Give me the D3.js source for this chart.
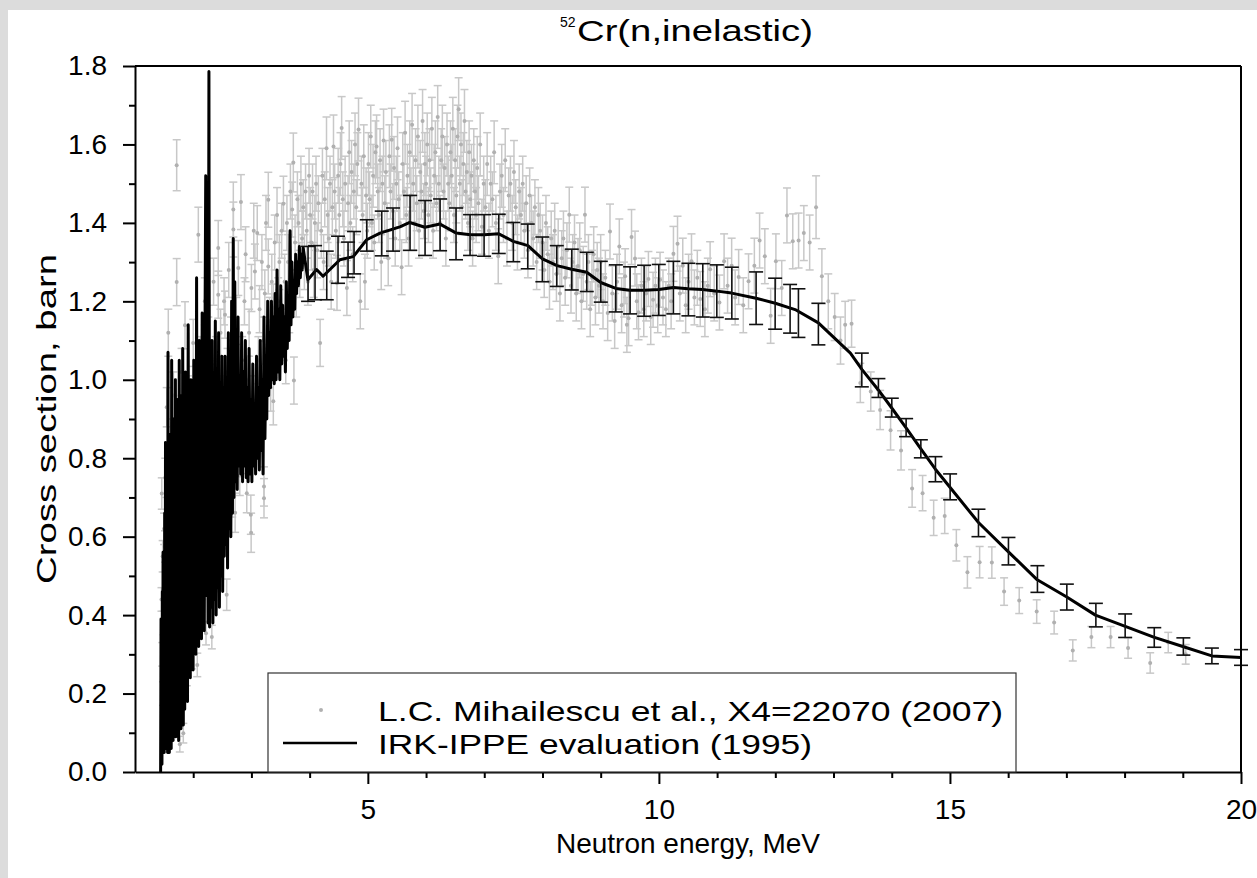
<!DOCTYPE html>
<html>
<head>
<meta charset="utf-8">
<script src="https://cdn.jsdelivr.net/npm/d3@7"></script>
<style>
	body { margin: 0; background: #fff; }
	svg { display: block; font-family: Arial, "Liberation Sans", sans-serif; }
</style>
</head>
<body>
<svg id="chart" width="1257" height="878"></svg>
<script>
// L.C. Mihailescu et al. (2007): [energy MeV, cross section b, uncertainty b]
const mihData = [
	[1.455,0.44,0.03],[1.460,0.71,0.04],[1.468,0.30,0.03],[1.475,0.55,0.04],[1.482,0.20,0.03],[1.49,0.38,0.03],[1.50,0.62,0.04],[1.515,0.575,0.04],[1.52,0.75,0.05],[1.53,0.28,0.03],
	[1.545,0.93,0.05],[1.55,0.45,0.04],[1.56,0.12,0.03],[1.572,1.12,0.06],[1.58,0.66,0.05],[1.60,0.35,0.04],[1.615,0.85,0.05],[1.63,0.18,0.03],[1.645,0.52,0.04],[1.66,0.96,0.06],
	[1.675,0.30,0.04],[1.69,0.70,0.05],[1.716,1.547,0.065],[1.716,1.249,0.06],[1.73,0.45,0.04],[1.75,0.88,0.05],[1.77,0.071,0.02],[1.785,0.62,0.05],[1.80,1.02,0.06],[1.83,0.099,0.025],
	[1.845,0.40,0.04],[1.859,1.139,0.06],[1.875,0.74,0.05],[1.89,0.25,0.03],[1.91,0.95,0.06],[1.93,0.55,0.04],[1.95,0.82,0.05],[1.974,0.293,0.03],[1.985,0.68,0.05],[2.0,1.094,0.06],
	[2.02,0.47,0.04],[2.04,0.90,0.05],[2.06,0.62,0.05],[2.07,0.273,0.03],[2.088,1.37,0.07],[2.10,0.78,0.05],[2.12,1.05,0.06],[2.14,0.40,0.04],[2.16,0.95,0.06],[2.18,0.58,0.05],
	[2.20,1.20,0.06],[2.22,0.354,0.03],[2.24,0.84,0.05],[2.26,1.10,0.06],[2.28,0.66,0.05],[2.30,0.98,0.06],[2.32,0.344,0.03],[2.335,0.949,0.06],[2.35,1.25,0.06],[2.37,0.72,0.05],
	[2.39,1.05,0.06],[2.41,0.50,0.04],[2.43,1.336,0.07],[2.43,1.217,0.06],[2.45,0.86,0.05],[2.47,1.12,0.06],[2.49,0.62,0.05],
	[2.51,0.95,0.06],[2.53,1.20,0.06],[2.546,1.166,0.06],[2.56,0.78,0.05],[2.575,0.452,0.04],[2.59,1.02,0.06],[2.61,1.28,0.07],[2.63,0.88,0.05],[2.65,1.10,0.06],[2.67,0.70,0.05],
	[2.689,1.434,0.07],[2.69,1.383,0.07],[2.70,0.95,0.06],[2.72,0.661,0.05],[2.74,1.15,0.06],[2.76,0.85,0.05],[2.775,1.285,0.07],[2.80,0.755,0.05],[2.82,1.453,0.07],[2.84,1.05,0.06],
	[2.86,0.90,0.05],[2.88,1.20,0.06],[2.90,1.32,0.07],[2.92,0.711,0.05],[2.94,1.00,0.06],[2.96,1.12,0.06],[2.98,0.85,0.05],[2.99,0.656,0.05],[2.995,0.61,0.05],
	[3.00,1.234,0.06],[3.02,0.95,0.06],[3.04,1.38,0.07],[3.06,1.276,0.07],[3.08,0.88,0.05],[3.10,1.374,0.07],[3.12,1.05,0.06],[3.14,1.18,0.06],[3.16,0.92,0.06],[3.18,1.30,0.07],
	[3.20,1.10,0.06],[3.216,0.698,0.05],[3.216,0.728,0.05],[3.23,1.22,0.06],[3.25,1.40,0.07],[3.27,1.02,0.06],[3.29,1.459,0.07],[3.29,1.289,0.07],[3.31,1.15,0.06],[3.33,0.98,0.06],
	[3.35,1.25,0.07],[3.376,1.184,0.06],[3.376,0.945,0.06],[3.40,1.35,0.07],[3.42,1.08,0.06],[3.44,1.42,0.07],[3.46,1.20,0.06],[3.48,1.30,0.07],
	[3.50,1.12,0.06],[3.52,1.38,0.07],[3.55,1.449,0.07],[3.57,1.25,0.07],[3.59,1.05,0.06],[3.61,1.40,0.07],[3.63,1.30,0.07],[3.65,1.18,0.06],[3.67,1.48,0.07],[3.70,1.434,0.07],
	[3.72,1.554,0.075],[3.73,0.998,0.06],[3.75,1.35,0.07],[3.77,1.22,0.06],[3.79,1.46,0.07],[3.81,1.40,0.07],[3.83,1.28,0.07],[3.85,1.50,0.07],[3.87,1.36,0.07],[3.89,1.44,0.07],
	[3.91,1.30,0.07],[3.93,1.48,0.07],[3.95,1.38,0.07],[3.97,1.25,0.06],[3.99,1.52,0.07],
	[4.01,1.42,0.07],[4.03,1.35,0.07],[4.05,1.48,0.07],[4.07,1.28,0.07],[4.09,1.40,0.07],[4.11,1.50,0.07],[4.13,1.33,0.07],[4.15,1.45,0.07],[4.18,1.094,0.06],[4.20,1.38,0.07],
	[4.22,1.52,0.07],[4.24,1.30,0.07],[4.26,1.46,0.07],[4.29,1.59,0.08],[4.31,1.42,0.07],[4.33,1.36,0.07],[4.35,1.50,0.07],[4.37,1.25,0.07],[4.39,1.44,0.07],[4.41,1.595,0.08],
	[4.43,1.48,0.07],[4.45,1.38,0.07],[4.47,1.247,0.07],[4.49,1.52,0.07],[4.51,1.42,0.07],[4.53,1.55,0.08],[4.55,1.642,0.08],[4.57,1.46,0.07],[4.59,1.36,0.07],[4.61,1.50,0.07],
	[4.64,1.234,0.07],[4.66,1.45,0.07],[4.68,1.58,0.08],[4.70,1.40,0.07],[4.72,1.53,0.08],[4.74,1.32,0.07],[4.76,1.48,0.07],[4.78,1.60,0.08],[4.80,1.44,0.07],[4.82,1.55,0.08],
	[4.84,1.638,0.08],[4.87,1.20,0.07],[4.89,1.50,0.07],[4.91,1.42,0.07],[4.93,1.57,0.08],[4.95,1.25,0.07],[4.97,1.47,0.07],[4.99,1.38,0.07],
	[5.01,1.55,0.08],[5.03,1.46,0.07],[5.05,1.62,0.08],[5.07,1.40,0.07],[5.09,1.52,0.08],[5.11,1.35,0.07],[5.13,1.58,0.08],[5.15,1.595,0.08],[5.17,1.48,0.07],[5.19,1.42,0.07],
	[5.21,1.56,0.08],[5.23,1.30,0.07],[5.25,1.50,0.07],[5.27,1.61,0.08],[5.29,1.45,0.07],[5.31,1.53,0.08],[5.33,1.38,0.07],[5.35,1.31,0.07],[5.37,1.57,0.08],[5.39,1.48,0.07],
	[5.41,1.612,0.08],[5.43,1.43,0.07],[5.45,1.54,0.08],[5.47,1.36,0.07],[5.49,1.50,0.07],[5.51,1.59,0.08],[5.53,1.46,0.07],[5.55,1.40,0.07],[5.58,1.287,0.07],[5.60,1.55,0.08],
	[5.62,1.48,0.07],[5.64,1.63,0.08],[5.66,1.42,0.07],[5.68,1.52,0.08],[5.70,1.36,0.07],[5.72,1.58,0.08],[5.74,1.47,0.07],[5.76,1.65,0.08],[5.78,1.50,0.07],[5.80,1.40,0.07],
	[5.82,1.56,0.08],[5.84,1.45,0.07],[5.86,1.62,0.08],[5.88,1.38,0.07],[5.90,1.53,0.08],[5.92,1.48,0.07],[5.94,1.66,0.08],[5.96,1.43,0.07],[5.98,1.55,0.08],
	[6.00,1.50,0.07],[6.02,1.60,0.08],[6.04,1.42,0.07],[6.06,1.56,0.08],[6.08,1.47,0.07],[6.10,1.64,0.08],[6.12,1.38,0.07],[6.14,1.52,0.08],[6.16,1.58,0.08],[6.18,1.45,0.07],
	[6.20,1.67,0.08],[6.22,1.50,0.07],[6.24,1.40,0.07],[6.26,1.56,0.08],[6.28,1.62,0.08],[6.30,1.48,0.07],[6.32,1.54,0.08],[6.34,1.36,0.07],[6.36,1.60,0.08],[6.38,1.50,0.07],
	[6.40,1.45,0.07],[6.42,1.58,0.08],[6.44,1.52,0.08],[6.46,1.64,0.08],[6.48,1.42,0.07],[6.50,1.56,0.08],[6.52,1.47,0.07],[6.54,1.62,0.08],[6.56,1.69,0.08],[6.58,1.50,0.07],
	[6.60,1.60,0.08],[6.62,1.44,0.07],[6.64,1.55,0.08],[6.66,1.66,0.08],[6.68,1.48,0.07],[6.70,1.53,0.08],[6.72,1.40,0.07],[6.74,1.58,0.08],[6.76,1.46,0.07],[6.78,1.52,0.08],
	[6.80,1.36,0.07],[6.82,1.56,0.08],[6.84,1.48,0.07],[6.86,1.42,0.07],[6.88,1.54,0.08],[6.90,1.45,0.07],[6.93,1.60,0.08],[6.96,1.39,0.07],[6.99,1.50,0.07],
	[7.02,1.44,0.07],[7.05,1.55,0.08],[7.08,1.38,0.07],[7.11,1.50,0.07],[7.14,1.46,0.07],[7.17,1.58,0.08],[7.20,1.40,0.07],[7.24,1.315,0.07],[7.27,1.48,0.07],[7.30,1.52,0.08],
	[7.33,1.42,0.07],[7.36,1.56,0.08],[7.39,1.36,0.07],[7.42,1.47,0.07],[7.45,1.50,0.07],[7.48,1.40,0.07],[7.51,1.53,0.08],[7.54,1.44,0.07],[7.57,1.35,0.07],[7.60,1.48,0.07],
	[7.63,1.42,0.07],[7.66,1.50,0.07],[7.69,1.38,0.07],[7.72,1.45,0.07],[7.75,1.33,0.07],[7.78,1.47,0.07],[7.81,1.40,0.07],[7.84,1.36,0.07],[7.87,1.44,0.07],[7.90,1.30,0.07],
	[7.93,1.42,0.07],[7.96,1.38,0.07],
	[8.00,1.35,0.07],[8.03,1.28,0.07],[8.06,1.40,0.07],[8.09,1.32,0.07],[8.12,1.25,0.07],[8.15,1.36,0.07],[8.18,1.30,0.07],[8.21,1.38,0.07],[8.24,1.27,0.07],[8.27,1.34,0.07],
	[8.30,1.22,0.07],[8.33,1.31,0.07],[8.36,1.36,0.07],[8.39,1.26,0.07],[8.42,1.33,0.07],[8.46,1.421,0.07],[8.49,1.24,0.07],[8.52,1.30,0.07],[8.55,1.35,0.07],[8.58,1.22,0.07],
	[8.61,1.29,0.07],[8.64,1.33,0.07],[8.67,1.20,0.07],[8.70,1.27,0.07],[8.73,1.421,0.07],[8.76,1.25,0.07],[8.79,1.30,0.07],[8.82,1.18,0.07],[8.85,1.26,0.07],[8.88,1.32,0.07],
	[8.91,1.21,0.07],[8.94,1.28,0.07],[8.97,1.24,0.07],
	[9.00,1.30,0.07],[9.04,1.20,0.07],[9.08,1.26,0.07],[9.12,1.17,0.07],[9.16,1.378,0.07],[9.20,1.22,0.07],[9.24,1.15,0.07],[9.28,1.25,0.07],[9.32,1.34,0.07],[9.36,1.19,0.07],
	[9.40,1.23,0.07],[9.42,1.264,0.07],[9.45,1.14,0.07],[9.48,1.157,0.07],[9.53,1.364,0.07],[9.59,1.309,0.07],[9.62,1.20,0.07],[9.65,1.172,0.07],[9.70,1.24,0.07],[9.74,1.18,0.07],
	[9.78,1.22,0.07],[9.82,1.257,0.07],[9.86,1.16,0.07],[9.90,1.204,0.07],[9.94,1.24,0.07],[9.98,1.19,0.07],
	[10.02,1.255,0.07],[10.07,1.21,0.07],[10.12,1.18,0.07],[10.17,1.24,0.07],[10.21,1.20,0.07],[10.25,1.321,0.07],[10.32,1.347,0.07],[10.36,1.22,0.07],[10.41,1.291,0.07],[10.46,1.19,0.07],
	[10.51,1.25,0.07],[10.56,1.302,0.07],[10.61,1.21,0.07],[10.66,1.26,0.07],[10.71,1.206,0.07],[10.79,1.18,0.07],[10.84,1.24,0.07],[10.88,1.282,0.07],[10.95,1.22,0.07],
	[11.04,1.197,0.07],[11.12,1.302,0.07],[11.18,1.24,0.07],[11.25,1.291,0.07],[11.31,1.21,0.07],[11.37,1.262,0.07],[11.45,1.19,0.07],[11.54,1.251,0.07],[11.64,1.291,0.07],[11.73,1.355,0.07],
	[11.82,1.315,0.07],[11.92,1.163,0.07],[12.01,1.302,0.07],[12.11,1.234,0.07],[12.20,1.419,0.07],[12.30,1.353,0.07],[12.40,1.355,0.07],[12.49,1.374,0.07],[12.59,1.35,0.07],[12.70,1.44,0.08],
	[12.80,1.264,0.07],[12.91,1.20,0.07],[13.02,1.16,0.06],[13.12,1.10,0.06],[13.20,1.14,0.06],
	[13.31,1.143,0.06],[13.46,0.992,0.05],[13.64,0.970,0.05],[13.80,0.923,0.05],[13.98,0.871,0.05],[14.16,0.820,0.05],[14.35,0.723,0.048],[14.53,0.711,0.045],[14.72,0.648,0.045],[14.91,0.653,0.045],
	[15.11,0.578,0.04],[15.30,0.509,0.04],[15.51,0.535,0.04],[15.72,0.534,0.04],[15.93,0.460,0.035],[16.19,0.437,0.033],[16.49,0.409,0.03],[16.79,0.381,0.029],[17.11,0.31,0.027],[17.43,0.344,0.027],
	[17.76,0.344,0.027],[18.06,0.316,0.026],[18.44,0.278,0.026],[18.75,0.33,0.026],[19.05,0.30,0.025]
];

// IRK-IPPE evaluation (1995): [energy MeV, cross section b]
const evalCurve = [
	[1.440,0.00],[1.447,0.39],[1.452,0.05],[1.458,0.30],[1.463,0.02],[1.470,0.46],[1.476,0.10],[1.482,0.56],[1.488,0.08],[1.495,0.40],
	[1.502,0.05],[1.510,0.66],[1.517,0.12],[1.524,0.84],[1.531,0.06],[1.538,0.55],[1.545,0.10],[1.552,0.74],[1.560,0.05],[1.567,1.07],
	[1.574,0.09],[1.582,0.62],[1.590,0.05],[1.598,0.86],[1.606,0.12],[1.614,0.48],[1.622,0.06],[1.630,1.05],[1.638,0.15],[1.646,0.70],
	[1.654,0.08],[1.662,0.90],[1.670,0.10],[1.678,0.82],[1.686,0.14],[1.694,1.00],[1.702,0.09],[1.710,0.62],[1.718,0.12],[1.726,0.95],
	[1.734,0.20],[1.742,0.75],[1.750,0.08],[1.760,1.05],[1.770,0.15],[1.780,0.80],[1.790,0.11],[1.800,0.96],[1.810,0.18],[1.820,1.08],
	[1.830,0.12],[1.842,0.88],[1.854,0.16],[1.866,1.02],[1.878,0.22],[1.890,0.85],[1.902,0.18],[1.914,1.14],[1.926,0.28],[1.938,0.78],
	[1.950,0.24],[1.962,1.00],[1.974,0.30],[1.986,0.92],[1.998,0.26],[2.010,1.05],[2.022,0.34],[2.034,0.82],[2.046,0.30],[2.058,1.26],
	[2.070,0.36],[2.082,0.95],[2.094,0.32],[2.106,1.10],[2.118,0.40],[2.130,0.90],[2.142,0.34],[2.154,1.17],[2.166,0.42],[2.178,0.88],
	[2.190,0.36],[2.205,1.20],[2.215,1.52],[2.225,0.45],[2.240,1.30],[2.255,0.38],[2.270,1.786],[2.282,0.37],[2.296,0.92],[2.310,0.42],
	[2.324,1.10],[2.338,0.38],[2.352,0.86],[2.366,0.44],[2.380,1.15],[2.394,0.40],[2.408,0.96],[2.422,0.47],[2.436,1.12],[2.450,0.42],
	[2.464,0.88],[2.478,0.50],[2.492,1.06],[2.506,0.46],[2.520,0.98],[2.534,0.55],[2.548,1.06],[2.562,0.58],[2.576,0.90],[2.590,0.52],
	[2.604,1.12],[2.618,0.62],[2.632,0.96],[2.646,0.60],[2.660,1.20],[2.674,0.66],[2.688,1.36],[2.700,0.70],[2.714,1.25],[2.728,0.74],
	[2.742,1.05],[2.756,0.72],[2.770,1.16],[2.784,0.78],[2.800,1.00],[2.816,0.76],[2.832,1.12],[2.848,0.74],[2.864,1.02],[2.880,0.78],
	[2.896,1.10],[2.912,0.75],[2.928,0.98],[2.944,0.74],[2.960,1.08],[2.976,0.76],[2.992,0.95],[3.008,0.74],[3.024,1.04],[3.040,0.78],
	[3.056,0.92],[3.072,0.76],[3.088,1.06],[3.104,0.80],[3.120,0.98],[3.136,0.77],[3.152,1.10],[3.168,0.82],[3.184,1.00],[3.200,0.76],
	[3.216,1.16],[3.232,0.85],[3.248,1.04],[3.264,0.90],[3.280,1.20],[3.296,0.96],[3.312,1.12],[3.328,0.98],[3.344,1.20],[3.360,1.00],
	[3.376,1.16],[3.392,0.99],[3.408,1.22],[3.424,1.00],[3.440,1.28],[3.456,1.02],[3.472,1.18],[3.488,1.00],[3.504,1.24],[3.520,1.04],
	[3.536,1.19],[3.552,1.06],[3.568,1.16],[3.584,1.02],[3.600,1.25],[3.616,1.08],[3.632,1.20],[3.648,1.10],[3.664,1.38],[3.680,1.14],
	[3.696,1.30],[3.712,1.16],[3.728,1.25],[3.744,1.18],[3.760,1.32],[3.776,1.22],[3.792,1.30],[3.808,1.24],[3.824,1.34],[3.840,1.26],
	[3.856,1.32],[3.872,1.28],[3.889,1.336],
	[3.97,1.255],[4.12,1.281],[4.23,1.264],[4.52,1.306],[4.75,1.314],[4.98,1.357],[5.21,1.374],[5.55,1.390],[5.72,1.401],[5.98,1.389],
	[6.24,1.397],[6.52,1.374],[6.76,1.370],[7.0,1.370],[7.25,1.372],[7.50,1.353],[7.75,1.342],[8.0,1.308],[8.25,1.291],[8.50,1.282],
	[8.76,1.274],[9.0,1.248],[9.26,1.233],[9.5,1.228],[9.75,1.228],[10.0,1.230],[10.25,1.235],[10.5,1.232],[10.75,1.230],[11.0,1.226],
	[11.25,1.221],[11.67,1.208],[12.0,1.195],[12.34,1.179],[12.74,1.145],[12.94,1.117],[13.29,1.068],[13.49,1.026],[13.77,0.974],[14.0,0.928],
	[14.25,0.877],[14.5,0.824],[14.75,0.772],[15.0,0.726],[15.49,0.636],[16.0,0.562],[16.5,0.490],[17.0,0.447],[17.5,0.400],[18.0,0.372],
	[18.5,0.344],[19.0,0.320],[19.5,0.296],[20.0,0.292]
];

// evaluation uncertainties: [energy MeV, cross section b, uncertainty b]
const evalBars = [
	[3.973,1.270,0.070],[4.093,1.273,0.069],[4.294,1.266,0.062],[4.488,1.306,0.060],[4.660,1.306,0.045],[4.763,1.324,0.054],[4.981,1.368,0.040],[5.239,1.373,0.057],[5.433,1.383,0.055],[5.725,1.400,0.070],
	[5.983,1.387,0.070],[6.241,1.395,0.066],[6.515,1.372,0.066],[6.756,1.369,0.052],[6.997,1.368,0.053],[7.249,1.372,0.050],[7.500,1.351,0.050],[7.747,1.340,0.057],[7.998,1.307,0.057],[8.246,1.290,0.052],
	[8.503,1.281,0.052],[8.761,1.275,0.050],[9.002,1.250,0.052],[9.260,1.233,0.060],[9.505,1.228,0.060],[9.746,1.227,0.065],[9.998,1.229,0.065],[10.249,1.235,0.067],[10.507,1.230,0.067],[10.754,1.228,0.068],
	[10.995,1.226,0.067],[11.253,1.221,0.066],[11.670,1.208,0.067],[11.997,1.194,0.065],[12.254,1.181,0.062],[12.397,1.170,0.062],[12.740,1.142,0.053],[13.486,1.025,0.043],[13.771,0.979,0.024],[14.001,0.929,0.024],
	[14.247,0.878,0.023],[14.500,0.824,0.023],[14.751,0.772,0.032],[15.003,0.727,0.033],[15.490,0.635,0.035],[16.005,0.563,0.035],[16.503,0.492,0.034],[17.008,0.446,0.033],[17.507,0.400,0.030],[18.010,0.373,0.030],
	[18.510,0.343,0.025],[19.010,0.320,0.022],[19.500,0.296,0.020],[20.000,0.292,0.020]
];

const xMajor = [5, 10, 15, 20];
const xMinor = [2, 3, 4, 6, 7, 8, 9, 11, 12, 13, 14, 16, 17, 18, 19];
const yMajor = [0, 0.2, 0.4, 0.6, 0.8, 1.0, 1.2, 1.4, 1.6, 1.8];
const yMinor = [0.1, 0.3, 0.5, 0.7, 0.9, 1.1, 1.3, 1.5, 1.7];
const legendLabels = ['L.C. Mihailescu et al., X4=22070 (2007)', 'IRK-IPPE evaluation (1995)'];

let width = 1257,
	height = 878;
let margin = { left: 135, right: 16, top: 66, bottom: 106 };

const svg = d3.select('#chart');

// grey frame on the left and top, white page
svg.append('rect').attr('width', width).attr('height', height).attr('fill', '#dcdcdc');
svg.append('rect').attr('x', 8).attr('y', 10).attr('width', width - 8).attr('height', height - 10).attr('fill', '#fff');

let x = d3.scaleLinear().domain([1, 20]).range([margin.left, width - margin.right]);
let y = d3.scaleLinear().domain([0, 1.8]).range([height - margin.bottom, margin.top]);

// experimental points with error bars
let exp = svg.append('g').attr('stroke', '#c8c8c8').attr('stroke-width', 1.5);
exp.selectAll('line.bar')
	.data(mihData)
	.enter()
	.append('line')
	.attr('x1', (d) => x(d[0]))
	.attr('x2', (d) => x(d[0]))
	.attr('y1', (d) => y(d[1] - d[2]))
	.attr('y2', (d) => y(d[1] + d[2]));
['top', 'bottom'].forEach(function (side) {
	exp.selectAll('line.cap-' + side)
		.data(mihData)
		.enter()
		.append('line')
		.attr('x1', (d) => x(d[0]) - 4)
		.attr('x2', (d) => x(d[0]) + 4)
		.attr('y1', (d) => y(side == 'top' ? d[1] + d[2] : d[1] - d[2]))
		.attr('y2', (d) => y(side == 'top' ? d[1] + d[2] : d[1] - d[2]));
});
svg.append('g')
	.selectAll('circle')
	.data(mihData)
	.enter()
	.append('circle')
	.attr('cx', (d) => x(d[0]))
	.attr('cy', (d) => y(d[1]))
	.attr('r', 2)
	.attr('fill', '#b0b0b0');

// evaluation curve
let line = d3
	.line()
	.x((d) => x(d[0]))
	.y((d) => y(d[1]));
svg.append('path')
	.datum(evalCurve)
	.attr('d', line)
	.attr('fill', 'none')
	.attr('stroke', '#000')
	.attr('stroke-width', 3)
	.attr('stroke-linejoin', 'round');

// evaluation error bars
let eb = svg.append('g').attr('stroke', '#111').attr('stroke-width', 1.6);
eb.selectAll('line.v')
	.data(evalBars)
	.enter()
	.append('line')
	.attr('x1', (d) => x(d[0]))
	.attr('x2', (d) => x(d[0]))
	.attr('y1', (d) => y(d[1] - d[2]))
	.attr('y2', (d) => y(d[1] + d[2]));
eb.selectAll('line.t')
	.data(evalBars)
	.enter()
	.append('line')
	.attr('x1', (d) => x(d[0]) - 7)
	.attr('x2', (d) => x(d[0]) + 7)
	.attr('y1', (d) => y(d[1] + d[2]))
	.attr('y2', (d) => y(d[1] + d[2]));
eb.selectAll('line.b')
	.data(evalBars)
	.enter()
	.append('line')
	.attr('x1', (d) => x(d[0]) - 7)
	.attr('x2', (d) => x(d[0]) + 7)
	.attr('y1', (d) => y(d[1] - d[2]))
	.attr('y2', (d) => y(d[1] - d[2]));

// axes
let fontSize = 28;
svg.append('g')
	.attr('transform', 'translate(' + margin.left + ',0)')
	.call(d3.axisLeft(y).tickValues(yMajor).tickSize(12).tickSizeOuter(0).tickPadding(16).tickFormat(d3.format('.1f')));
svg.append('g')
	.attr('transform', 'translate(' + margin.left + ',0)')
	.call(d3.axisLeft(y).tickValues(yMinor).tickSize(6).tickFormat(''))
	.select('.domain')
	.remove();
svg.append('g')
	.attr('transform', 'translate(0,' + (height - margin.bottom) + ')')
	.call(d3.axisBottom(x).tickValues(xMajor).tickSize(12).tickSizeOuter(0).tickPadding(15));
svg.append('g')
	.attr('transform', 'translate(0,' + (height - margin.bottom) + ')')
	.call(d3.axisBottom(x).tickValues(xMinor).tickSize(6).tickFormat(''))
	.select('.domain')
	.remove();

svg.selectAll('.tick line').attr('stroke', '#000').attr('stroke-width', 2);
svg.selectAll('.domain').attr('stroke', '#000').attr('stroke-width', 2);
svg.selectAll('.tick text')
	.attr('fill', '#000')
	.style('font-size', fontSize + 'px')
	.style('font-family', 'Arial, "Liberation Sans", sans-serif');

// top and right frame
svg.append('line')
	.attr('x1', margin.left)
	.attr('x2', width - margin.right)
	.attr('y1', margin.top)
	.attr('y2', margin.top)
	.attr('stroke', '#000')
	.attr('stroke-width', 2);
svg.append('line')
	.attr('x1', width - margin.right)
	.attr('x2', width - margin.right)
	.attr('y1', margin.top)
	.attr('y2', height - margin.bottom)
	.attr('stroke', '#000')
	.attr('stroke-width', 2);

// titles (the source export spreads its text a little wider than Arial)
svg.append('text').attr('x', 560).attr('y', 27).style('font-size', '14px').text('52');
svg.append('text')
	.attr('x', 577)
	.attr('y', 41)
	.attr('textLength', 236)
	.attr('lengthAdjust', 'spacingAndGlyphs')
	.style('font-size', '30px')
	.text('Cr(n,inelastic)');

svg.append('text')
	.attr('x', (x(1) + x(20)) / 2)
	.attr('y', 853)
	.attr('text-anchor', 'middle')
	.style('font-size', '28px')
	.text('Neutron energy, MeV');

svg.append('text')
	.attr('transform', 'translate(56,' + (y(0) + y(1.8)) / 2 + ') rotate(-90)')
	.attr('text-anchor', 'middle')
	.attr('textLength', 330)
	.attr('lengthAdjust', 'spacingAndGlyphs')
	.style('font-size', '28px')
	.text('Cross section, barn');

// legend
let legend = svg.append('g');
legend.append('rect')
	.attr('x', 268)
	.attr('y', 673)
	.attr('width', 748)
	.attr('height', 99)
	.attr('fill', '#fff')
	.attr('stroke', '#333')
	.attr('stroke-width', 1.2);
legend.append('circle').attr('cx', 321).attr('cy', 710).attr('r', 2).attr('fill', '#b0b0b0');
legend.append('line').attr('x1', 283).attr('x2', 357).attr('y1', 743).attr('y2', 743).attr('stroke', '#000').attr('stroke-width', 2.5);
let legendWidths = [625, 434];
legend.selectAll('text.lab')
	.data(legendLabels)
	.enter()
	.append('text')
	.attr('x', 378)
	.attr('y', (d, i) => 721 + i * 33)
	.attr('textLength', (d, i) => legendWidths[i])
	.attr('lengthAdjust', 'spacingAndGlyphs')
	.style('font-size', '28px')
	.text((d) => d);
</script>
</body>
</html>
